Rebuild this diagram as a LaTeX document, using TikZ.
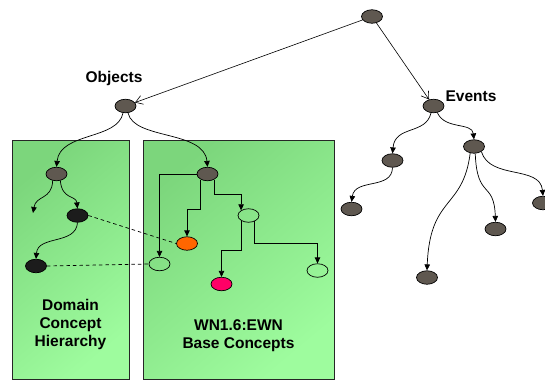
\documentclass[tikz,border=0pt]{standalone}
\usepackage{fontspec}
\setmainfont{Liberation Sans}
\usetikzlibrary{shapes.geometric,arrows.meta}
\definecolor{nodegray}{RGB}{95,88,80}
\definecolor{nodeblack}{RGB}{28,28,28}
\definecolor{nodeorange}{RGB}{255,102,0}
\definecolor{nodepink}{RGB}{255,0,102}
\definecolor{greendark}{RGB}{124,214,124}
\definecolor{greenlight}{RGB}{158,252,158}
\tikzset{
  concept/.style={ellipse,draw=black,line width=0.7pt,minimum width=21pt,minimum height=13.5pt,inner sep=0pt},
  gray node/.style={concept,fill=nodegray},
  black node/.style={concept,fill=nodeblack},
  orange node/.style={concept,fill=nodeorange},
  pink node/.style={concept,fill=nodepink},
  empty node/.style={concept},
  greenbox/.style={draw=black!85,line width=0.8pt,top color=greendark,bottom color=greenlight,shading angle=40},
  link/.style={line width=0.7pt,-{Triangle[length=6pt,width=5.5pt]}},
  toplink/.style={line width=0.6pt,-{Straight Barb[length=7pt,width=9pt,line width=0.6pt]}},
  dashlink/.style={line width=0.7pt,dashed,dash pattern=on 3.5pt off 3pt},
  lbl/.style={font=\bfseries\fontsize{15.5}{18}\selectfont,align=center,inner sep=0pt}
}
\begin{document}
\begin{tikzpicture}[x=1pt,y=-1pt]
\useasboundingbox (0,0) rectangle (545,381);
\clip (0,0) rectangle (545,381);
% boxes
\path[greenbox] (12,140) rectangle (129,379);
\path[greenbox] (143,140) rectangle (334,379);
% top tree nodes
\node[gray node] (T) at (372,16.5) {};
\node[gray node] (O) at (125.5,106) {};
\node[gray node] (E) at (433.5,106) {};
\node[lbl] (Olbl) at (114,78) {Objects};
\node[lbl] (Elbl) at (471,96) {Events};
% left box
\node[gray node] (A) at (56.5,174) {};
\node[black node] (B) at (77.5,215.5) {};
\node[black node] (C) at (36,266) {};
\coordinate (D) at (33,213);
\node[lbl] (dom) at (70.5,324) {Domain\\Concept\\Hierarchy};
% right box
\node[gray node] (R) at (207.5,174) {};
\node[empty node] (W1) at (159.5,264) {};
\node[orange node] (Or) at (187,243.5) {};
\node[empty node] (W2) at (248.5,215.5) {};
\node[pink node] (P) at (221.5,284) {};
\node[empty node] (W3) at (317.5,270.5) {};
\node[lbl] (wn) at (238.5,335.5) {WN1.6:EWN\\Base Concepts};
% events tree
\node[gray node] (E1) at (392.5,160.5) {};
\node[gray node] (E2) at (474,146.5) {};
\node[gray node] (E3) at (351.5,209) {};
\node[gray node] (E4) at (427,277.5) {};
\node[gray node] (E5) at (495.5,229) {};
\node[gray node] (E6) at (543,203) {};
% top connectors
\draw[toplink] (T) -- (O);
\draw[toplink] (T) -- (E);
% objects connectors
\draw[link] (O.-110) .. controls (118,140) and (60,132) .. (A.north);
\draw[link] (O.-70) .. controls (134,140) and (204,130) .. (R.north);
% left box connectors
\draw[link] (A.-120) .. controls (52,200) and (36,195) .. (D);
\draw[link] (A.-60) .. controls (62,200) and (76,195) .. (B.north);
\draw[link] (B.south) .. controls (76,245) and (38,235) .. (C.north);
\draw[dashlink] (B.east) -- (Or.west);
\draw[dashlink] (C.east) -- (W1.west);
% right box connectors
\draw[link] (R.west) -| (W1.north);
\draw[link] (R.-140) -- ++(0,30) -| (Or.north);
\draw[link] (R.-40) -- ++(0,15) -| (W2.145);
\draw[link] (W2.-145) -- ++(0,30) -| (P.north);
\draw[link] (W2.-45) -- ++(0,22) -| (W3.north);
% events connectors
\draw[link] (E.-110) .. controls (426,135) and (395,125) .. (E1.north);
\draw[link] (E.-60) .. controls (445,130) and (472,122) .. (E2.north);
\draw[link] (E1.south) .. controls (392,190) and (355,178) .. (E3.north);
\draw[link] (E2.-120) .. controls (463,210) and (430,195) .. (E4.north);
\draw[link] (E2.-80) .. controls (477,200) and (494,180) .. (E5.north);
\draw[link] (E2.-35) .. controls (490,180) and (540,165) .. (E6.north);
\end{tikzpicture}
\end{document}
